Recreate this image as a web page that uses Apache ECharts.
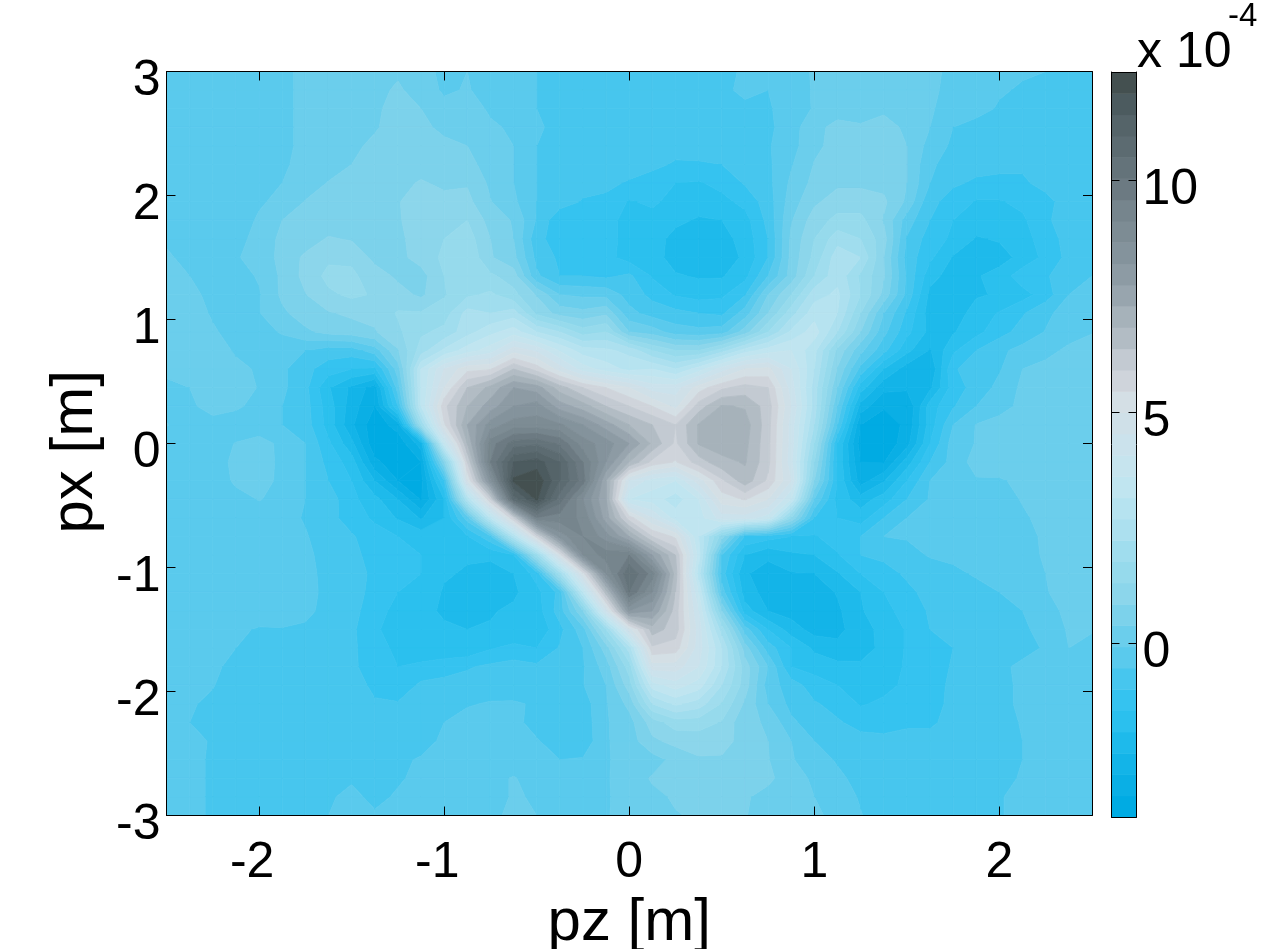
<!DOCTYPE html>
<html><head><meta charset="utf-8">
<style>html,body{margin:0;padding:0;background:#fff}#c{width:1278px;height:949px}</style>
<script src="https://cdn.jsdelivr.net/npm/echarts@6/dist/echarts.min.js"></script>
</head><body><div id="c"></div>
<script>
const pzNodes=[-2.5,-2.375,-2.25,-2.125,-2,-1.875,-1.75,-1.625,-1.5,-1.375,-1.25,-1.125,-1,-0.875,-0.75,-0.625,-0.5,-0.375,-0.25,-0.125,0,0.125,0.25,0.375,0.5,0.625,0.75,0.875,1,1.125,1.25,1.375,1.5,1.625,1.75,1.875,2,2.125,2.25,2.375,2.5];
const pxNodes=[3,2.85,2.7,2.55,2.4,2.25,2.1,1.95,1.8,1.65,1.5,1.35,1.2,1.05,0.9,0.75,0.6,0.45,0.3,0.15,0,-0.15,-0.3,-0.45,-0.6,-0.75,-0.9,-1.05,-1.2,-1.35,-1.5,-1.65,-1.8,-1.95,-2.1,-2.25,-2.4,-2.55,-2.7,-2.85,-3];
// colour scale: contour bands, from the colour bar (values in units of 1e-4)
const zMin=-3.74, zStep=0.4594;
const bandColors=['#00ABE3','#0AAFE5','#13B4E8','#1EBAEB','#2BC0EE','#35C3F0','#47C6EE','#5ACAED','#6BCEEC','#7CD2EB','#8CD6EB','#96DAEC','#A0DDEE','#ACE0EF','#B6E3F0','#C0E5F0','#C6E4EE','#CBE2EC','#CFE0E8','#D4DFE5','#CFD4DB','#C3CAD2','#B2BCC4','#A6B2BA','#98A5AE','#8D9BA4','#84939C','#7D8C94','#76858D','#6C7A82','#64737A','#5C6B71','#556469','#4C5B5F','#445050'];
const xTicks=[-2,-1,0,1,2];
const barTicks=[0,5,10];
// field, node by node, in colour-band units; top row is px=3
const fieldRows=[
[7.5,7.5,7.5,7.5,7.5,7.8,8.2,8.5,8.6,8.7,8.9,8.6,7.6,8.0,7.5,7.5,7.0,6.7,6.6,6.5,6.5,6.5,6.5,6.5,6.8,7.1,7.1,7.6,8.1,8.5,8.6,8.7,8.6,8.2,7.8,7.6,7.3,7.1,7.0,6.8,6.6],
[7.5,7.5,7.5,7.5,7.5,7.8,8.2,8.4,8.6,8.8,9.1,8.7,7.8,8.1,7.5,7.5,7.0,6.7,6.6,6.5,6.5,6.5,6.5,6.5,6.9,7.1,7.0,7.5,8.1,8.6,8.8,8.8,8.7,8.2,7.7,7.4,7.1,6.9,6.8,6.6,6.5],
[7.5,7.5,7.5,7.5,7.5,7.8,8.2,8.4,8.6,8.8,9.4,9.0,8.4,8.3,7.9,7.7,7.0,6.9,6.6,6.5,6.5,6.5,6.5,6.5,6.8,6.9,6.9,7.4,8.1,8.7,8.8,8.9,8.7,8.1,7.6,7.3,6.9,6.7,6.6,6.5,6.5],
[7.5,7.5,7.5,7.5,7.5,7.8,8.2,8.4,8.6,8.9,9.4,9.3,8.7,8.5,8.1,7.9,7.1,6.8,6.6,6.5,6.5,6.5,6.5,6.5,6.6,6.6,6.8,7.5,8.8,9.2,9.05,9.2,8.9,8.0,7.0,6.7,6.6,6.5,6.5,6.5,6.5],
[7.5,7.5,7.5,7.5,7.5,7.8,8.2,8.4,8.8,9.2,9.5,9.5,9.3,9.0,8.4,8.0,7.0,6.8,6.6,6.5,6.5,6.4,6.3,6.4,6.5,6.6,6.9,7.6,8.8,9.3,9.5,9.5,9.0,7.6,6.8,6.4,6.3,6.3,6.4,6.5,6.5],
[7.5,7.5,7.5,7.5,7.6,7.9,8.2,8.6,9.0,9.3,9.6,9.6,9.5,9.3,8.6,8.0,7.0,6.8,6.5,6.4,6.4,6.2,5.9,5.9,6.0,6.2,6.8,7.9,9.05,9.5,9.5,9.5,9.0,7.2,6.5,6.2,6.1,6.1,6.3,6.4,6.5],
[7.5,7.5,7.5,7.6,7.8,8.0,8.5,9.05,9.3,9.5,9.7,10.1,9.8,9.9,8.8,8.0,7.0,6.6,6.4,6.2,5.9,5.6,5.0,4.9,5.3,6.1,6.7,8.2,9.3,9.8,9.8,9.7,9.0,7.0,6.1,5.9,5.9,5.9,6.2,6.4,6.5],
[7.5,7.5,7.5,7.6,7.9,8.2,9.05,9.3,9.4,9.5,9.95,10.4,10.3,10.3,9.05,8.2,7.0,6.5,5.9,5.8,4.9,5.2,4.6,4.4,4.7,5.3,6.5,8.5,9.8,10.5,10.5,10.2,8.8,6.2,5.7,4.9,4.9,5.3,5.8,6.3,6.5],
[7.5,7.5,7.5,7.6,8.1,9.0,9.2,9.4,9.5,9.6,9.9,10.5,10.6,11.0,9.6,8.9,6.9,5.2,5.5,5.5,4.5,4.6,4.2,3.9,4.0,4.6,6.3,8.9,10.5,11.3,11.3,9.9,7.5,6.0,5.0,4.5,4.5,4.8,5.9,6.3,6.5],
[7.8,7.6,7.6,7.8,8.2,9.3,9.5,10.1,9.9,9.6,9.8,10.4,11.0,11.5,10.0,9.0,6.3,5.5,5.5,5.5,4.5,4.4,3.7,3.3,3.6,4.4,6.0,9.2,11.0,12.6,12.0,10.4,6.9,5.5,4.8,3.9,4.1,4.5,5.6,6.3,6.5],
[8.2,7.6,7.5,7.9,8.4,9.3,10.2,10.8,10.8,9.7,9.7,10.4,11.2,11.9,10.1,9.3,6.7,5.8,5.3,5.3,4.6,4.4,3.6,3.4,3.4,4.2,6.0,9.3,11.3,13.6,13.0,10.0,6.6,5.2,3.9,3.9,3.6,4.3,5.3,6.3,6.7],
[8.4,8.0,7.6,7.6,8.1,9.2,10.3,11.3,11.2,10.5,9.8,9.6,11.0,11.6,11.2,10.5,7.2,6.0,6.0,5.8,6.2,4.9,4.1,3.9,3.9,4.7,7.0,9.4,12.0,13.7,11.8,10.1,6.8,4.4,3.5,3.9,4.4,5.6,5.9,6.5,7.0],
[8.5,8.2,7.8,7.6,7.9,9.2,9.95,10.8,11.2,10.9,10.4,9.8,10.9,11.8,12.2,11.3,9.9,8.0,7.8,7.7,6.6,5.7,4.9,4.6,4.8,5.9,9.0,11.0,13.6,14.2,12.0,9.7,6.7,3.7,3.4,3.9,4.1,4.6,5.5,7.0,7.3],
[8.5,8.4,7.9,7.6,7.95,8.8,9.5,9.9,10.2,10.3,11.1,11.1,11.5,13.4,13.0,13.5,10.8,9.6,9.3,9.8,7.3,6.6,6.3,6.0,5.8,7.5,10.0,12.6,14.6,14.0,11.0,8.0,5.8,3.5,3.5,4.4,5.1,5.9,6.8,7.4,7.7],
[8.3,8.5,8.1,7.7,7.6,8.1,8.8,9.3,9.5,9.9,10.8,11.8,12.3,13.6,14.7,15.5,14.0,13.0,11.5,12.0,9.0,8.5,7.5,7.3,7.5,9.5,12.0,14.2,15.5,13.0,10.0,7.3,5.3,3.7,3.9,4.7,5.6,6.4,7.05,7.6,7.95],
[8.1,8.4,8.4,7.9,7.6,7.4,7.0,6.5,6.5,7.5,9.9,12.5,14.2,15.5,16.5,18.6,17.8,15.9,14.5,14.2,13.7,12.0,11.0,11.0,12.5,14.5,15.5,16.0,14.3,10.7,8.3,6.3,4.3,2.9,4.8,6.0,6.8,7.3,7.7,8.2,8.4],
[8.1,8.2,8.0,8.2,7.9,7.2,6.3,5.5,5.0,4.8,8.5,15.0,18.0,19.7,19.9,22.0,20.6,18.5,16.5,15.5,14.7,15.0,14.0,15.5,17.5,19.0,19.3,17.0,14.0,9.9,6.7,4.0,2.5,2.1,5.9,6.4,6.9,8.0,8.3,8.4,8.5],
[7.9,8.0,8.2,8.4,7.95,7.2,6.3,4.1,2.8,1.5,7.5,15.0,19.0,22.0,23.3,25.0,24.5,22.5,21.0,20.0,19.0,17.5,17.5,19.5,20.8,21.4,21.0,17.5,13.5,9.0,4.5,2.3,2.2,2.8,5.5,6.4,7.3,8.2,8.4,8.5,8.5],
[7.7,7.9,8.2,8.2,7.6,7.0,6.4,4.5,2.5,1.0,6.0,15.0,20.7,23.0,24.5,26.0,26.5,24.5,23.5,22.0,21.0,20.0,18.7,21.5,23.1,22.9,21.5,18.0,13.5,8.0,2.6,1.1,1.0,4.5,5.9,7.0,7.7,8.2,8.5,8.5,8.5],
[8.05,7.6,7.8,7.3,7.2,7.0,6.5,4.6,2.2,0.3,1.5,12.0,19.8,24.0,26.5,27.5,27.5,27.2,26.0,24.5,23.0,22.0,21.0,23.1,23.5,23.5,21.4,17.5,13.0,7.0,1.0,0.5,1.2,4.5,7.0,8.05,8.3,8.5,8.5,8.5,8.5],
[7.5,7.5,7.5,8.05,8.5,7.7,7.0,5.2,3.3,0.2,0.3,2.5,16.0,23.0,28.5,30.5,30.8,29.8,27.5,26.5,25.0,22.8,20.8,23.1,23.5,23.3,21.3,17.5,12.0,5.0,0.5,0.2,1.6,5.0,7.5,8.05,8.3,8.4,8.4,8.4,8.4],
[7.4,7.4,7.4,8.3,8.6,7.7,7.0,5.7,4.5,1.3,0.2,1.0,10.0,21.0,29.0,33.0,33.5,32.0,29.0,26.0,23.0,20.7,19.9,21.5,22.7,23.1,21.3,17.3,11.0,4.8,1.0,0.9,3.5,6.0,7.4,8.4,8.5,8.5,8.4,8.3,8.3],
[7.3,7.3,7.3,8.2,8.5,7.7,7.0,6.0,5.0,3.0,1.0,0.7,6.0,19.0,26.5,34.2,34.8,32.0,29.5,24.0,18.0,16.5,16.0,18.5,20.8,22.6,20.8,18.0,10.0,5.0,1.5,2.9,5.0,7.0,7.5,7.9,7.9,8.2,8.4,8.4,8.3],
[7.2,7.2,7.2,7.6,8.05,7.7,7.0,6.5,5.3,4.3,3.0,0.9,4.0,14.0,21.0,31.5,34.2,30.5,27.0,24.0,16.0,15.5,14.5,16.0,19.5,20.1,19.0,16.0,8.0,4.6,3.5,4.5,6.0,7.1,7.4,7.6,7.7,8.05,8.4,8.3,8.3],
[7.2,7.2,7.2,7.4,7.5,7.4,6.9,6.3,5.6,4.8,3.9,2.9,4.0,7.5,15.0,21.0,29.0,28.5,27.8,24.5,20.5,18.0,15.5,15.5,17.5,17.5,16.5,11.0,6.0,5.0,4.5,6.0,7.0,7.2,7.4,7.5,7.6,7.9,8.2,8.3,8.3],
[7.2,7.2,7.2,7.2,7.2,7.2,7.1,6.4,6.1,5.5,5.0,4.6,4.0,4.9,6.8,14.0,20.5,26.5,28.0,26.5,24.0,21.0,19.8,15.0,10.5,5.9,5.4,5.0,4.9,5.5,6.0,7.0,7.05,7.3,7.4,7.4,7.6,7.8,8.1,8.3,8.3],
[7.2,7.2,7.2,7.2,7.2,7.2,7.3,6.5,6.3,5.6,5.95,5.0,4.4,4.1,4.2,5.0,12.0,19.5,27.0,28.5,29.0,25.0,22.0,15.5,7.0,4.0,3.2,3.8,4.0,4.9,6.0,6.3,6.8,7.05,7.2,7.3,7.5,7.7,8.1,8.4,8.3],
[7.3,7.3,7.3,7.3,7.3,7.3,7.4,6.6,6.4,5.8,5.4,5.0,4.1,3.9,3.6,4.0,5.4,12.5,19.5,27.0,31.0,28.5,22.5,14.5,6.5,3.1,2.6,2.9,3.0,3.9,5.0,5.5,6.2,6.7,6.8,7.1,7.3,7.6,8.0,8.4,8.3],
[7.3,7.3,7.3,7.3,7.3,7.4,7.5,6.6,6.4,5.7,5.0,4.6,3.9,3.4,3.3,3.8,4.7,6.3,15.0,22.5,30.0,27.0,22.0,16.0,7.5,3.5,2.6,2.4,2.3,3.1,4.0,5.0,5.7,6.4,6.6,6.7,7.0,7.2,7.95,8.3,8.3],
[7.3,7.3,7.3,7.3,7.3,7.4,7.3,6.6,6.3,5.5,4.6,4.2,3.9,3.7,3.9,4.2,4.5,6.5,10.0,18.0,26.0,25.0,21.5,17.0,10.0,4.5,3.0,2.6,2.3,2.8,3.9,4.6,5.5,6.1,6.4,6.6,6.7,7.0,7.7,8.2,8.2],
[7.2,7.2,7.2,7.1,6.95,6.95,6.8,6.5,6.2,5.2,4.4,4.2,4.1,4.0,4.1,4.1,4.2,5.7,7.6,12.0,18.5,22.5,21.5,17.5,12.5,7.5,5.0,3.5,2.6,2.7,3.6,4.3,5.1,6.0,6.2,6.4,6.5,6.8,7.4,8.1,8.1],
[7.2,7.2,7.3,7.0,6.5,6.5,6.5,6.4,6.1,5.7,4.6,4.1,4.2,4.2,4.9,5.3,5.0,6.1,7.0,9.5,13.5,20.8,20.5,17.5,14.0,9.5,6.5,5.0,3.8,3.3,3.5,4.3,5.1,5.6,6.0,6.2,6.4,6.7,7.1,8.0,7.6],
[7.2,7.2,7.2,6.7,6.4,6.4,6.4,6.4,6.2,5.5,5.0,5.3,5.6,5.9,6.2,6.4,6.2,6.3,6.9,8.5,11.5,18.5,18.5,17.0,14.0,10.5,8.0,5.0,4.6,4.3,4.2,4.6,5.1,5.5,6.1,6.4,6.8,7.2,7.3,7.4,7.3],
[7.2,7.2,7.05,6.5,6.4,6.4,6.4,6.4,6.4,5.8,5.3,6.2,6.3,6.4,6.4,6.5,6.4,6.5,6.95,8.0,10.5,15.5,16.5,15.5,13.0,10.5,7.5,6.5,5.5,5.0,4.5,4.7,5.2,5.6,6.2,6.4,6.7,7.2,7.2,7.2,7.2],
[7.2,7.1,6.8,6.4,6.3,6.3,6.3,6.3,6.3,6.1,6.1,6.4,6.4,6.9,7.1,7.1,6.9,6.5,6.5,7.9,9.3,13.0,14.2,13.5,11.9,9.8,8.0,6.7,6.1,5.7,4.9,5.2,5.5,5.7,6.2,6.4,6.7,7.2,7.2,7.2,7.2],
[7.2,7.0,6.6,6.3,6.3,6.3,6.3,6.3,6.3,6.3,6.4,6.7,7.0,7.4,7.5,7.3,6.6,6.4,6.4,7.9,8.6,10.5,11.5,11.5,10.9,9.2,8.9,7.2,6.5,6.1,5.7,5.7,5.9,5.9,6.2,6.4,6.5,7.1,7.2,7.2,7.2],
[7.2,7.3,6.9,6.2,6.2,6.2,6.2,6.2,6.2,6.2,6.3,6.6,7.2,7.4,7.5,7.6,7.1,6.4,6.3,7.9,8.5,9.8,10.3,10.4,10.3,9.7,9.0,8.0,7.0,6.8,6.3,6.2,6.2,6.2,6.2,6.3,6.4,7.0,7.2,7.2,7.2],
[7.2,7.2,6.9,6.2,6.2,6.2,6.2,6.2,6.2,6.2,6.8,7.1,7.3,7.5,7.5,7.6,7.6,7.0,7.1,7.9,8.4,8.6,9.3,9.9,9.9,9.5,9.05,8.1,7.4,6.9,6.5,6.2,6.2,6.2,6.2,6.3,6.5,7.0,7.2,7.2,7.2],
[7.2,7.2,6.9,6.2,6.2,6.2,6.2,6.7,6.9,6.4,6.9,7.2,7.3,7.4,7.8,8.05,7.7,7.5,7.4,7.9,8.5,9.1,9.0,9.1,9.1,9.2,9.2,8.5,7.8,7.2,6.7,6.3,6.3,6.3,6.3,6.4,6.7,7.1,7.2,7.2,7.2],
[7.2,7.2,6.9,6.2,6.2,6.2,6.2,6.9,7.2,6.8,7.1,7.4,7.4,7.4,7.6,8.1,7.9,7.4,7.4,7.9,8.4,8.8,9.1,9.2,9.2,9.1,8.7,8.3,8.0,7.5,6.9,6.4,6.4,6.4,6.4,6.5,6.95,7.2,7.2,7.2,7.2],
[7.2,7.2,6.9,6.2,6.2,6.2,6.2,7.0,7.3,7.1,7.2,7.3,7.4,7.5,7.7,8.3,8.0,7.5,7.4,7.9,8.5,8.6,8.95,9.1,9.1,9.05,8.6,8.4,8.2,7.7,7.05,6.5,6.4,6.4,6.4,6.4,6.95,7.2,7.3,7.3,7.3]
];
const toValue=b=>zMin+b*zStep;
const bandLo=i=>toValue(i);

// one record per grid cell: [x0,y0,x1,y1,z00,z10,z11,z01]
const cells=[];
for(let j=0;j<pxNodes.length-1;j++)for(let i=0;i<pzNodes.length-1;i++){
  cells.push([pzNodes[i],pxNodes[j],pzNodes[i+1],pxNodes[j+1],
    toValue(fieldRows[j][i]),toValue(fieldRows[j][i+1]),toValue(fieldRows[j+1][i+1]),toValue(fieldRows[j+1][i])]);
}
function clip(poly,level,keepAbove){
  const out=[];
  for(let k=0;k<poly.length;k++){
    const a=poly[k],b=poly[(k+1)%poly.length];
    const ina=keepAbove?a[2]>=level:a[2]<=level, inb=keepAbove?b[2]>=level:b[2]<=level;
    if(ina)out.push(a);
    if(ina!==inb){const t=(level-a[2])/(b[2]-a[2]);out.push([a[0]+t*(b[0]-a[0]),a[1]+t*(b[1]-a[1]),level]);}
  }
  return out;
}
function renderCell(params,api){
  const x0=api.value(0),y0=api.value(1),x1=api.value(2),y1=api.value(3);
  const q=[[x0,y0,api.value(4)],[x1,y0,api.value(5)],[x1,y1,api.value(6)],[x0,y1,api.value(7)]];
  const zs=q.map(p=>p[2]);
  const n=bandColors.length;
  const first=Math.max(0,Math.floor((Math.min(...zs)-zMin)/zStep));
  const last=Math.min(n-1,Math.floor((Math.max(...zs)-zMin)/zStep));
  const children=[];
  for(let b=first;b<=last;b++){
    let poly=q;
    if(b>0)poly=clip(poly,bandLo(b),true);
    if(poly.length&&b<n-1)poly=clip(poly,bandLo(b+1),false);
    if(poly.length<3)continue;
    children.push({type:'polygon',silent:true,
      shape:{points:poly.map(p=>api.coord([p[0],p[1]]))},
      style:{fill:bandColors[b],stroke:bandColors[b],lineWidth:0.8}});
  }
  return {type:'group',children};
}
function renderBarBand(params,api){
  const lo=api.coord([0,api.value(1)]),hi=api.coord([1,api.value(2)]);
  return {type:'rect',silent:true,shape:{x:lo[0],y:hi[1],width:hi[0]-lo[0],height:lo[1]-hi[1]+0.5},
    style:{fill:bandColors[api.value(0)]}};
}
const barData=bandColors.map((c,i)=>[i,bandLo(i),bandLo(i+1)]);
const font='"Liberation Sans",Arial,sans-serif';
const line={show:true,onZero:false,lineStyle:{color:'#000',width:1}};
const label={color:'#000',fontFamily:font,fontSize:50,verticalAlign:'top',lineHeight:20};
const tick=(extra)=>Object.assign({show:true,inside:true,length:9,lineStyle:{color:'#000',width:1}},extra||{});
const negShift=v=>v<0?v+' ':String(v);
const chart=echarts.init(document.getElementById('c'),null,{renderer:'canvas'});
chart.setOption({
  animation:false,backgroundColor:'#fff',
  grid:[{left:166.5,top:71.5,width:925.5,height:744,outerBoundsMode:'none'},{left:1111.5,top:72,width:25,height:745,outerBoundsMode:'none'}],
  xAxis:[
    {type:'value',gridIndex:0,z:5,position:'bottom',min:-2.5,max:2.5,splitLine:{show:false},axisLine:line,
     axisTick:tick({customValues:xTicks}),
     axisLabel:{color:'#000',fontFamily:font,fontSize:50,margin:23,customValues:xTicks,formatter:negShift},
     name:'pz [m]',nameLocation:'middle',nameGap:77,nameTextStyle:{color:'#000',fontFamily:font,fontSize:60}},
    {type:'value',gridIndex:0,z:5,position:'top',min:-2.5,max:2.5,splitLine:{show:false},axisLine:line,
     axisTick:tick({customValues:xTicks}),axisLabel:{show:false}},
    {type:'value',gridIndex:1,z:5,position:'bottom',min:0,max:1,splitLine:{show:false},axisLine:line,axisTick:{show:false},axisLabel:{show:false}},
    {type:'value',gridIndex:1,z:5,position:'top',min:0,max:1,splitLine:{show:false},axisLine:line,axisTick:{show:false},axisLabel:{show:false}}
  ],
  yAxis:[
    {type:'value',gridIndex:0,z:5,position:'left',min:-3,max:3,interval:1,splitLine:{show:false},axisLine:line,axisTick:tick(),
     axisLabel:Object.assign({margin:6},label),
     name:'px [m] ',nameLocation:'middle',nameRotate:90,nameGap:61,nameTextStyle:{color:'#000',fontFamily:font,fontSize:60}},
    {type:'value',gridIndex:0,z:5,position:'right',min:-3,max:3,interval:1,splitLine:{show:false},axisLine:line,axisTick:tick(),axisLabel:{show:false}},
    {type:'value',gridIndex:1,z:5,position:'left',min:zMin,max:zMin+zStep*bandColors.length,splitLine:{show:false},axisLine:line,
     axisTick:tick({length:8,customValues:barTicks}),axisLabel:{show:false}},
    {type:'value',gridIndex:1,z:5,position:'right',min:zMin,max:zMin+zStep*bandColors.length,splitLine:{show:false},axisLine:line,
     axisTick:tick({length:8,customValues:barTicks}),
     axisLabel:Object.assign({margin:6,customValues:barTicks},label)}
  ],
  series:[
    {type:'custom',xAxisIndex:0,yAxisIndex:0,coordinateSystem:'cartesian2d',clip:true,progressive:0,silent:true,
     data:cells,encode:{x:[0,2],y:[1,3]},renderItem:renderCell},
    {type:'custom',xAxisIndex:2,yAxisIndex:2,coordinateSystem:'cartesian2d',clip:true,progressive:0,silent:true,z:1,
     data:barData,encode:{y:[1,2]},renderItem:renderBarBand}
  ],
  graphic:[
    {type:'text',x:1137,y:28,silent:true,style:{text:'x 10',fill:'#000',font:'50px '+font,textVerticalAlign:'top'}},
    {type:'text',x:1228,y:0,silent:true,style:{text:'-4',fill:'#000',font:'33px '+font,textVerticalAlign:'top'}}
  ]
});
</script></body></html>
